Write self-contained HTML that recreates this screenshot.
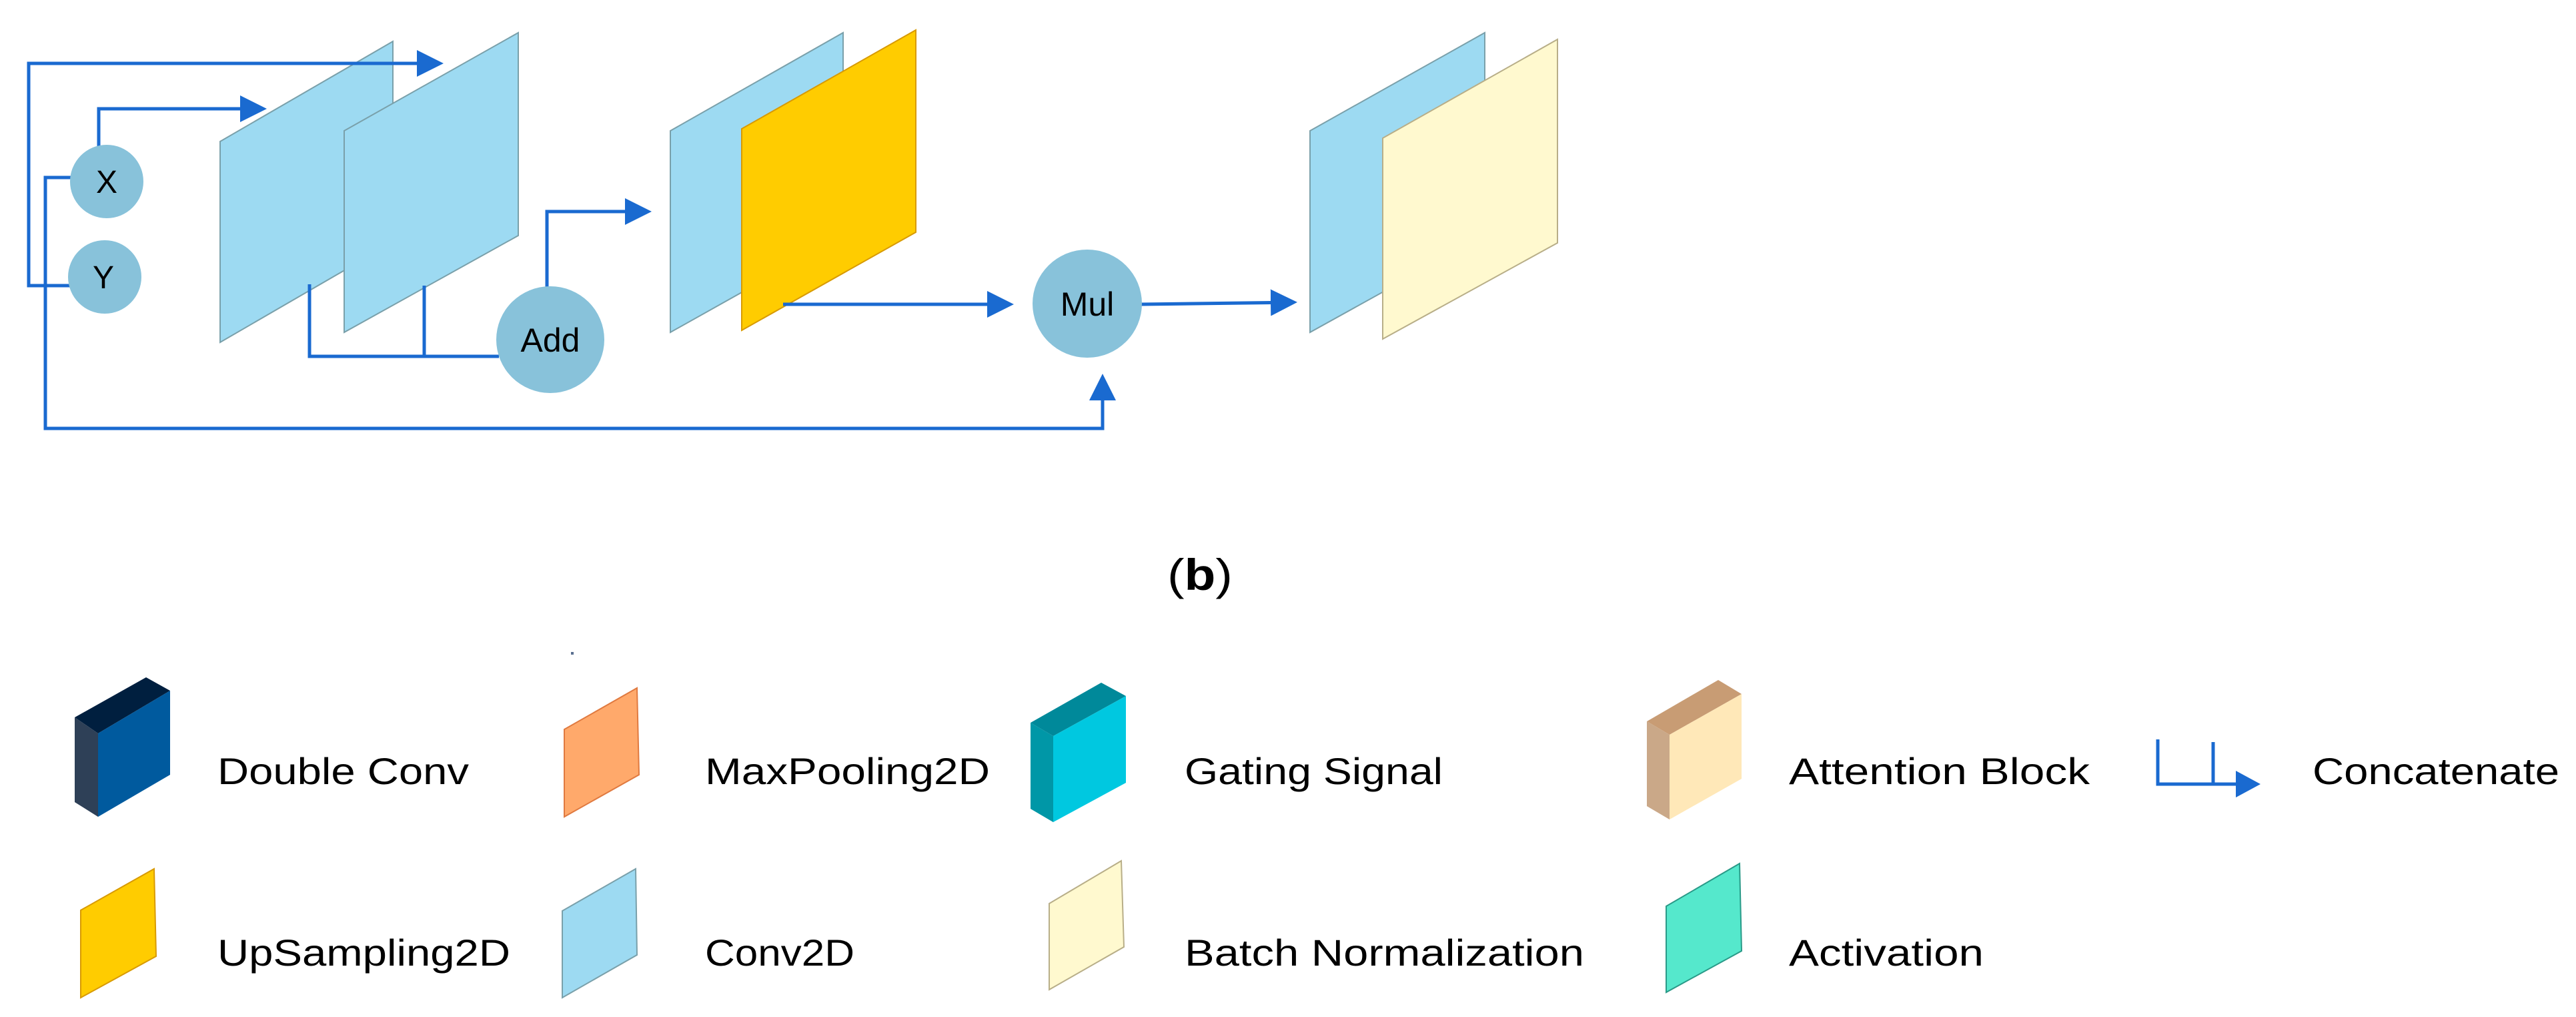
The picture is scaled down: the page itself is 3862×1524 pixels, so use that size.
<!DOCTYPE html>
<html><head><meta charset="utf-8"><style>
html,body{margin:0;padding:0;background:#fff}
svg{display:block}
text{font-family:"Liberation Sans",sans-serif;fill:#000}
</style></head><body>
<svg width="3862" height="1524" viewBox="0 0 3862 1524" xmlns="http://www.w3.org/2000/svg">
<defs>
<marker id="ah" markerWidth="8" markerHeight="8" refX="7" refY="4" orient="auto" markerUnits="strokeWidth">
<path d="M0,0 L8,4 L0,8 z" fill="#1a6ad0"/></marker>
</defs>
<rect width="3862" height="1524" fill="#fff"/>
<!-- planes -->
<g stroke-width="2">
<polygon points="330,212 589,62 589,363 330,513" fill="#9ddaf2" stroke="#7aa0aa"/>
<polygon points="516,196 777,49 777,353 516,498" fill="#9ddaf2" stroke="#7aa0aa"/>
<polygon points="1005,196 1264,49 1264,353 1005,498" fill="#9ddaf2" stroke="#7aa0aa"/>
<polygon points="1112,193 1373,45 1373,348 1112,495" fill="#ffcc00" stroke="#d89a00"/>
<polygon points="1964,196 2226,49 2226,353 1964,498" fill="#9ddaf2" stroke="#7aa0aa"/>
<polygon points="2073,207 2335,59 2335,364 2073,508" fill="#fff9cf" stroke="#b8ae88"/>
</g>
<!-- connectors -->
<g fill="none" stroke="#1a6ad0" stroke-width="5">
<polyline points="105,428 43,428 43,95 660,95" marker-end="url(#ah)"/>
<polyline points="148,220 148,163 395,163" marker-end="url(#ah)"/>
<polyline points="106,266 68,266 68,642 1653,642 1653,565" marker-end="url(#ah)"/>
<polyline points="464,426 464,534 748,534"/>
<line x1="636" y1="428" x2="636" y2="534"/>
<polyline points="820,430 820,317 972,317" marker-end="url(#ah)"/>
<line x1="1174" y1="456" x2="1515" y2="456" marker-end="url(#ah)"/>
<line x1="1711" y1="456" x2="1940" y2="453" marker-end="url(#ah)"/>
</g>
<!-- circles -->
<g fill="#88c2da">
<circle cx="160" cy="272" r="55"/>
<circle cx="157" cy="415" r="55"/>
<ellipse cx="825" cy="509" rx="81" ry="80"/>
<ellipse cx="1630" cy="455" rx="82" ry="81"/>
</g>
<g font-size="48" text-anchor="middle">
<text x="160" y="289">X</text>
<text x="155" y="432">Y</text>
<text x="825" y="527" font-size="50">Add</text>
<text x="1630" y="473" font-size="50">Mul</text>
</g>
<!-- (b) -->
<text x="1750" y="884" font-family="'Liberation Serif',serif" font-size="66" textLength="98" lengthAdjust="spacingAndGlyphs">(<tspan font-weight="bold">b</tspan>)</text>
<rect x="856" y="977" width="4" height="4" fill="#5a7090"/>
<!-- legend icons -->
<polygon points="112,1075 219,1015 255,1035 147,1099" fill="#001f3f"/>
<polygon points="112,1075 147,1099 147,1224 112,1202" fill="#2e4057"/>
<polygon points="147,1099 255,1035 255,1161 147,1224" fill="#005a9e"/>
<polygon points="846,1093 955,1031 958,1161 846,1224" fill="#ffa96b" stroke="#e07a40" stroke-width="2"/>
<polygon points="1545,1083 1651,1023 1688,1043 1579,1103" fill="#00899a"/>
<polygon points="1545,1083 1579,1103 1579,1232 1545,1212" fill="#0097a7"/>
<polygon points="1579,1103 1688,1043 1688,1173 1579,1232" fill="#00c8e0"/>
<polygon points="2469,1081 2576,1019 2611,1040 2503,1101" fill="#c89c74"/>
<polygon points="2469,1081 2503,1101 2503,1228 2469,1208" fill="#caa888"/>
<polygon points="2503,1101 2611,1040 2611,1167 2503,1228" fill="#ffe8b8"/>
<polygon points="121,1364 231,1302 234,1433 121,1495" fill="#ffcc00" stroke="#d89a00" stroke-width="2"/>
<polygon points="843,1365 953,1302 955,1431 843,1495" fill="#9ddaf2" stroke="#7aa0aa" stroke-width="2"/>
<polygon points="1573,1354 1681,1290 1685,1419 1573,1483" fill="#fff9cf" stroke="#b8ae88" stroke-width="2"/>
<polygon points="2498,1358 2608,1294 2611,1425 2498,1487" fill="#55e8cc" stroke="#2a9a88" stroke-width="2"/>
<g fill="none" stroke="#1a6ad0" stroke-width="5">
<polyline points="3235,1108 3235,1175 3355,1175"/>
<line x1="3318" y1="1112" x2="3318" y2="1175"/>
</g>
<polygon points="3352,1155 3389,1175 3352,1195" fill="#1a6ad0"/>
<!-- legend text -->
<g font-size="56" lengthAdjust="spacingAndGlyphs">
<text x="326" y="1175" textLength="377" lengthAdjust="spacingAndGlyphs">Double Conv</text>
<text x="1057" y="1175" textLength="427" lengthAdjust="spacingAndGlyphs">MaxPooling2D</text>
<text x="1776" y="1175" textLength="387" lengthAdjust="spacingAndGlyphs">Gating Signal</text>
<text x="2682" y="1175" textLength="451" lengthAdjust="spacingAndGlyphs">Attention Block</text>
<text x="3467" y="1175" textLength="370" lengthAdjust="spacingAndGlyphs">Concatenate</text>
<text x="326" y="1447" textLength="439" lengthAdjust="spacingAndGlyphs">UpSampling2D</text>
<text x="1057" y="1447" textLength="224" lengthAdjust="spacingAndGlyphs">Conv2D</text>
<text x="1776" y="1447" textLength="599" lengthAdjust="spacingAndGlyphs">Batch Normalization</text>
<text x="2682" y="1447" textLength="292" lengthAdjust="spacingAndGlyphs">Activation</text>
</g>
</svg>
</body></html>
